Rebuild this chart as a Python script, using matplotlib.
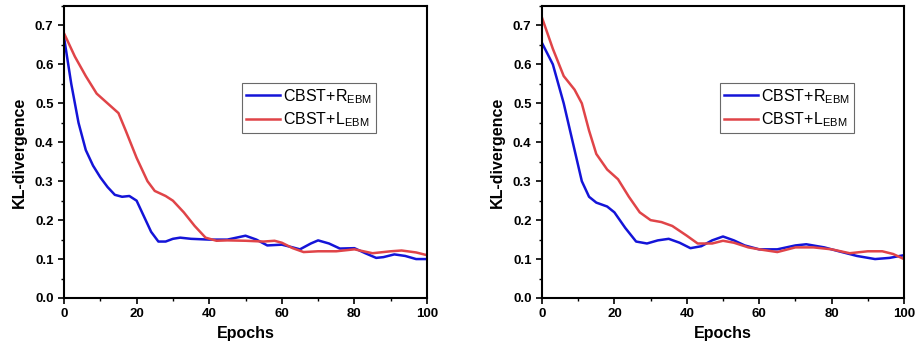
import matplotlib
matplotlib.use("Agg")
import matplotlib.pyplot as plt
from matplotlib.ticker import MultipleLocator

plt.rcParams['font.family'] = ['Liberation Sans', 'DejaVu Sans']

# left panel
x_left_r = [0, 2, 4, 6, 8, 10, 12, 14, 16, 18, 20, 22, 24, 26, 28, 30, 32, 35, 40, 45,
            50, 53, 56, 60, 63, 65, 68, 70, 73, 76, 80, 83, 86, 88, 91, 94, 97, 100]
y_left_r = [0.67, 0.55, 0.45, 0.38, 0.34, 0.31, 0.285, 0.265, 0.26, 0.262, 0.25, 0.21, 0.17,
            0.145, 0.145, 0.152, 0.155, 0.152, 0.15, 0.15, 0.16, 0.15, 0.135, 0.137, 0.13,
            0.125, 0.14, 0.148, 0.14, 0.127, 0.128, 0.115, 0.103, 0.105, 0.112, 0.108, 0.1, 0.1]
x_left_l = [0, 3, 6, 9, 12, 15, 17, 20, 23, 25, 28, 30, 33, 36, 39, 42, 45, 50, 55, 58,
            60, 63, 66, 70, 75, 80, 85, 90, 93, 97, 100]
y_left_l = [0.68, 0.62, 0.57, 0.525, 0.5, 0.475, 0.43, 0.36, 0.3, 0.275, 0.262, 0.25, 0.22,
            0.185, 0.155, 0.147, 0.148, 0.147, 0.145, 0.147, 0.142, 0.128, 0.118, 0.12, 0.12,
            0.125, 0.115, 0.12, 0.122, 0.117, 0.11]

# right panel
x_right_r = [0, 3, 6, 9, 11, 13, 15, 18, 20, 23, 26, 29, 32, 35, 38, 41, 44, 47, 50, 53,
             56, 60, 65, 70, 73, 78, 82, 87, 92, 96, 100]
y_right_r = [0.655, 0.6, 0.5, 0.38, 0.3, 0.26, 0.245, 0.235, 0.22, 0.18, 0.145, 0.14, 0.148,
             0.152, 0.142, 0.128, 0.133, 0.148, 0.158, 0.148, 0.135, 0.125, 0.125, 0.135,
             0.138, 0.13, 0.12, 0.108, 0.1, 0.103, 0.11]
x_right_l = [0, 3, 6, 9, 11, 13, 15, 18, 21, 24, 27, 30, 33, 36, 40, 43, 47, 50, 53, 57,
             60, 65, 70, 75, 80, 85, 90, 94, 97, 100]
y_right_l = [0.72, 0.64, 0.57, 0.535, 0.5, 0.43, 0.37, 0.33, 0.305, 0.26, 0.22, 0.2, 0.195,
             0.185, 0.16, 0.14, 0.14, 0.147, 0.142, 0.13, 0.125, 0.118, 0.13, 0.13, 0.125,
             0.115, 0.12, 0.12, 0.113, 0.1]

blue = '#1414d8'
red = '#e04448'

fig = plt.figure(figsize=(9.15, 3.43), dpi=100)
ax1 = fig.add_axes([64/915, 1 - 298/343, 363/915, 292/343])
ax2 = fig.add_axes([542/915, 1 - 298/343, 362/915, 292/343])

panels = [(ax1, x_left_r, y_left_r, x_left_l, y_left_l, (242/915, 1 - 83/343)),
          (ax2, x_right_r, y_right_r, x_right_l, y_right_l, (720/915, 1 - 83/343))]

for ax, xr, yr, xl, yl, leg_pos in panels:
    ax.plot(xr, yr, color=blue, lw=1.8, label=r'CBST+R$_{\mathregular{EBM}}$')
    ax.plot(xl, yl, color=red, lw=1.8, label=r'CBST+L$_{\mathregular{EBM}}$')
    ax.set_xlim(0, 100)
    ax.set_ylim(0, 0.75)
    ax.xaxis.set_major_locator(MultipleLocator(20))
    ax.xaxis.set_minor_locator(MultipleLocator(10))
    ax.yaxis.set_major_locator(MultipleLocator(0.1))
    ax.yaxis.set_minor_locator(MultipleLocator(0.05))
    ax.tick_params(which='major', direction='out', length=4, width=1.2, labelsize=9.5)
    ax.tick_params(which='minor', direction='out', length=2.5, width=1.0)
    ax.yaxis.set_major_formatter(matplotlib.ticker.FormatStrFormatter('%.1f'))
    for lab in ax.get_xticklabels() + ax.get_yticklabels():
        lab.set_fontweight('bold')
    for sp in ax.spines.values():
        sp.set_linewidth(1.5)
    ax.set_xlabel('Epochs', fontsize=11.5, fontweight='bold', labelpad=4)
    ax.set_ylabel('KL-divergence', fontsize=11.5, fontweight='bold', labelpad=6)
    leg = ax.legend(loc='upper left', bbox_to_anchor=leg_pos, bbox_transform=fig.transFigure,
                    fontsize=11.5, frameon=True, fancybox=False, edgecolor='#444444',
                    handlelength=2.1, handletextpad=0.2, borderpad=0.25, labelspacing=0.3,
                    borderaxespad=0)
    leg.get_frame().set_linewidth(0.8)

fig.savefig('out.png', dpi=100)
